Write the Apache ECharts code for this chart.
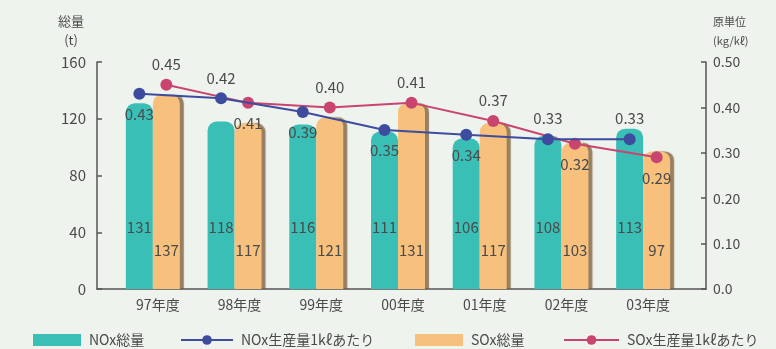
<!DOCTYPE html>
<html>
<head>
<meta charset="utf-8">
<script src="https://cdn.jsdelivr.net/npm/echarts@6/dist/echarts.min.js"></script>
<style>
  html, body { margin: 0; padding: 0; background: #eef3ee; }
  #chart { width: 776px; height: 349px; }
</style>
</head>
<body>
<div id="chart"></div>
<script>
// Fiscal years
const years = ['97年度', '98年度', '99年度', '00年度', '01年度', '02年度', '03年度'];
// Total emissions (t)
const noxTotal = [131, 118, 116, 111, 106, 108, 113];
const soxTotal = [137, 117, 121, 131, 117, 103, 97];
// Emissions per 1kℓ of production (kg/kℓ)
const noxRate = [0.43, 0.42, 0.39, 0.35, 0.34, 0.33, 0.33];
const soxRate = [0.45, 0.41, 0.40, 0.41, 0.37, 0.32, 0.29];
// Axis ticks
const leftTicks = { min: 0, max: 160, interval: 40 };
const rightTicks = { min: 0, max: 0.5, interval: 0.1 };

// Where each rate label sits relative to its point
const noxLabelPos = ['bottom', 'top', 'bottom', 'bottom', 'bottom', 'top', 'top'];
const soxLabelPos = ['top', 'bottom', 'top', 'top', 'top', 'bottom', 'bottom'];

const FONT = '"Noto Sans CJK JP", "Noto Sans", sans-serif';
const TEXT = '#4a4a4a';
const AXIS = '#555';
const TEAL = '#39bfb6';
const ORANGE = '#f7c07c';
const BLUE = '#3d4c9f';
const RED = '#c9456f';

const chart = echarts.init(document.getElementById('chart'));

const plotTop = 62, plotBottom = 60;
const hiddenCat = (gi) => ({ type: 'category', gridIndex: gi, data: years, show: false, boundaryGap: true });
const hiddenVal = (gi, t) => ({ type: 'value', gridIndex: gi, show: false, min: t.min, max: t.max, interval: t.interval });

// One legend block per entry so each sits in its own slot along the bottom
const legendItem = (name, left, width, icon) => ({
  left, top: 333, padding: 0,
  itemWidth: width, itemHeight: 12, itemGap: 0,
  textStyle: { color: TEXT, fontSize: 14, fontFamily: FONT, padding: [0, 0, 0, 3] },
  data: [icon ? { name, icon } : { name }]
});

chart.setOption({
  backgroundColor: '#eef3ee',
  textStyle: { fontFamily: FONT },
  legend: [
    legendItem('NOx総量', 33, 48, 'rect'),
    legendItem('NOx生産量1kℓあたり', 180, 52),
    legendItem('SOx総量', 415, 48, 'rect'),
    legendItem('SOx生産量1kℓあたり', 563, 55)
  ],
  grid: [
    // frame grid carrying both value axes and the baseline
    { left: 97, right: 70, top: plotTop, bottom: plotBottom },
    // bars
    { left: 112, right: 92, top: plotTop, bottom: plotBottom },
    // NOx rate line, centred over the NOx bars
    { left: 98.5, right: 105.5, top: plotTop, bottom: plotBottom },
    // SOx rate line, centred over the SOx bars
    { left: 125.5, right: 78.5, top: plotTop, bottom: plotBottom }
  ],
  xAxis: [
    {
      type: 'value', gridIndex: 0, min: 0, max: 1,
      axisLine: { show: true, lineStyle: { color: AXIS, width: 1.5 } },
      axisTick: { show: false }, axisLabel: { show: false }, splitLine: { show: false }
    },
    {
      type: 'category', gridIndex: 1, data: years,
      axisLine: { show: false }, axisTick: { show: false },
      axisLabel: { color: TEXT, fontSize: 14, margin: 9, padding: [0, 0, 0, 10], fontFamily: FONT }
    },
    hiddenCat(2),
    hiddenCat(3)
  ],
  yAxis: [
    {
      type: 'value', gridIndex: 0, position: 'left',
      min: leftTicks.min, max: leftTicks.max, interval: leftTicks.interval,
      name: '総量\n(t)',
      nameLocation: 'end',
      nameGap: 12,
      nameTextStyle: { color: TEXT, fontSize: 13, align: 'center', lineHeight: 19, padding: [0, 52, 0, 0] },
      axisLine: { show: true, lineStyle: { color: AXIS, width: 1.5 } },
      axisTick: { show: true, inside: true, length: 5, lineStyle: { color: AXIS, width: 1.5 } },
      axisLabel: { color: TEXT, fontSize: 15, margin: 11 },
      splitLine: { show: false }
    },
    {
      type: 'value', gridIndex: 0, position: 'right',
      min: rightTicks.min, max: rightTicks.max, interval: rightTicks.interval,
      name: '原単位\n(kg/kℓ)',
      nameLocation: 'end',
      nameGap: 12,
      nameTextStyle: { color: TEXT, fontSize: 11, align: 'left', lineHeight: 19, padding: [0, 0, 0, 7] },
      axisLine: { show: true, lineStyle: { color: AXIS, width: 1.5 } },
      axisTick: { show: true, inside: true, length: 5, lineStyle: { color: AXIS, width: 1.5 } },
      axisLabel: {
        color: TEXT, fontSize: 14, margin: 7,
        formatter: (v) => (v === 0 ? '0.0' : v.toFixed(2))
      },
      splitLine: { show: false }
    },
    hiddenVal(1, leftTicks),
    hiddenVal(2, rightTicks),
    hiddenVal(3, rightTicks)
  ],
  series: [
    {
      name: 'NOx総量', type: 'bar', xAxisIndex: 1, yAxisIndex: 2,
      data: noxTotal, barWidth: 27, barGap: '0%',
      itemStyle: { color: TEAL, borderRadius: [9, 9, 0, 0] },
      label: { show: true, position: 'insideBottom', distance: 54, color: TEXT, fontSize: 15 },
      z: 2
    },
    {
      name: 'SOx総量', type: 'bar', xAxisIndex: 1, yAxisIndex: 2,
      data: soxTotal, barWidth: 27, barGap: '0%',
      itemStyle: {
        color: ORANGE, borderRadius: [9, 9, 0, 0],
        shadowColor: 'rgba(120, 90, 50, 0.75)', shadowOffsetX: 4, shadowBlur: 1
      },
      label: { show: true, position: 'insideBottom', distance: 31, color: TEXT, fontSize: 15 },
      z: 3
    },
    {
      name: 'NOx生産量1kℓあたり', type: 'line', xAxisIndex: 2, yAxisIndex: 3,
      data: noxRate.map((v, i) => ({ value: v, label: { position: noxLabelPos[i] } })),
      symbol: 'circle', symbolSize: 12,
      lineStyle: { color: BLUE, width: 2 },
      itemStyle: { color: BLUE },
      label: { show: true, color: TEXT, fontSize: 15, distance: 7, formatter: (p) => p.value.toFixed(2) },
      z: 5
    },
    {
      name: 'SOx生産量1kℓあたり', type: 'line', xAxisIndex: 3, yAxisIndex: 4,
      data: soxRate.map((v, i) => ({ value: v, label: { position: soxLabelPos[i] } })),
      symbol: 'circle', symbolSize: 12,
      lineStyle: { color: RED, width: 2 },
      itemStyle: { color: RED },
      label: { show: true, color: TEXT, fontSize: 15, distance: 7, formatter: (p) => p.value.toFixed(2) },
      z: 4
    }
  ]
});
</script>
</body>
</html>
